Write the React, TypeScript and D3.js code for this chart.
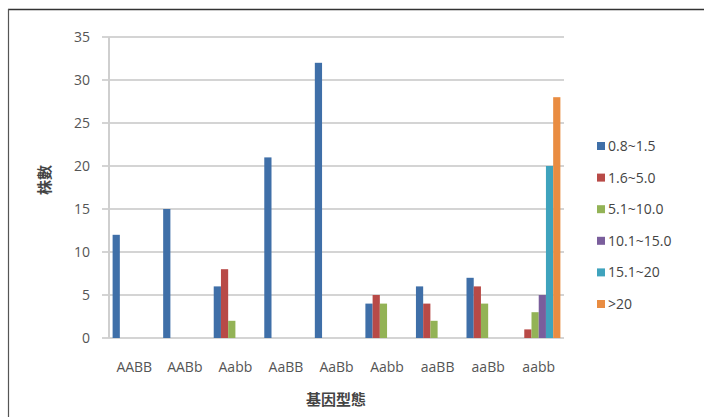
import React from "react";
import * as d3 from "d3";

const categories = ["AABB", "AABb", "Aabb", "AaBB", "AaBb", "Aabb ", "aaBB", "aaBb", "aabb"];
const seriesNames = ["0.8~1.5", "1.6~5.0", "5.1~10.0", "10.1~15.0", "15.1~20", ">20"];
const s1 = [12, 15, 6, 21, 32, 4, 6, 7, 0];
const s2 = [0, 0, 8, 0, 0, 5, 4, 6, 1];
const s3 = [0, 0, 2, 0, 0, 4, 2, 4, 3];
const s4 = [0, 0, 0, 0, 0, 0, 0, 0, 5];
const s5 = [0, 0, 0, 0, 0, 0, 0, 0, 20];
const s6 = [0, 0, 0, 0, 0, 0, 0, 0, 28];
const yTicks = [0, 5, 10, 15, 20, 25, 30, 35];
const colors = ["#3f6fa8", "#b84a47", "#93b356", "#7a5e9c", "#3fa3bd", "#e98c41"];

const W = 704, H = 417;
const left = 109, right = 564, top = 37, bottom = 338;

export default function App() {
  const series = [s1, s2, s3, s4, s5, s6];
  const x = d3.scaleBand<string>().domain(categories).range([left, right]).paddingInner(0).paddingOuter(0);
  const inner = d3.scaleBand<number>().domain(d3.range(seriesNames.length)).range([0, x.bandwidth()]).paddingOuter(0.5).paddingInner(0);
  const y = d3.scaleLinear().domain([0, 35]).range([bottom, top]);
  const font = "'Open Sans', 'DejaVu Sans', sans-serif";
  const cjk = "'Noto Sans CJK TC', 'Noto Sans CJK SC', sans-serif";
  return (
    <div style={{ position: "absolute", left: 0, top: 0 }}>
      <svg width={W} height={H} style={{ display: "block", background: "#fff" }}>
        <line x1={8} y1={9.5} x2={704} y2={9.5} stroke="#333" strokeWidth={1.5} />
        <line x1={8.5} y1={9} x2={8.5} y2={417} stroke="#555" strokeWidth={1.2} />
        {yTicks.map((t) => (
          <g key={t}>
            <line x1={left - 7} x2={right} y1={y(t)} y2={y(t)} stroke="#d4d4d4" strokeWidth={2} />
            <text x={90} y={y(t)} dy="0.35em" textAnchor="end" fontFamily={font} fontSize={14} fill="#555">{t}</text>
          </g>
        ))}
        <line x1={left} x2={left} y1={top} y2={bottom} stroke="#cfcfcf" strokeWidth={2} />
        {series.map((vals, si) =>
          vals.map((v, ci) =>
            v > 0 ? (
              <rect key={si + "-" + ci}
                x={(x(categories[ci]) as number) + (inner(si) as number)}
                y={y(v)} width={inner.bandwidth()} height={y(0) - y(v)} fill={colors[si]} />
            ) : null
          )
        )}
        {categories.map((c) => (
          <text key={c} x={(x(c) as number) + x.bandwidth() / 2} y={367} dy="0.35em" textAnchor="middle"
            fontFamily={font} fontSize={14} fill="#555">{c.trim()}</text>
        ))}
        {seriesNames.map((n, i) => (
          <g key={n} transform={`translate(597, ${146 + i * 31.6})`}>
            <rect x={0} y={-4} width={8} height={8} fill={colors[i]} />
            <text x={11} y={0} dy="0.35em" fontFamily={font} fontSize={14} fill="#444">{n}</text>
          </g>
        ))}
        <text x={336} y={400} dy="0.35em" textAnchor="middle" fontFamily={cjk} fontSize={15} fontWeight="bold" fill="#444">基因型態</text>
        <text transform="translate(45, 180) rotate(-90)" textAnchor="middle" dy="0.35em" fontFamily={cjk} fontSize={15} fontWeight="bold" fill="#444">株數</text>
      </svg>
    </div>
  );
}
